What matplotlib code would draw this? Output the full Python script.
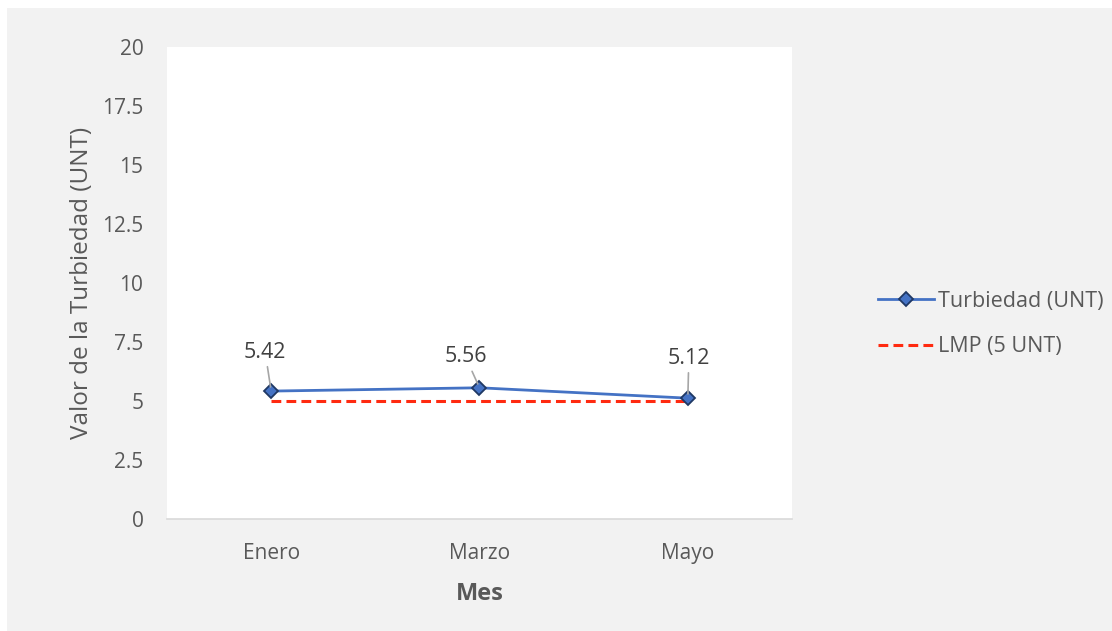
import matplotlib
matplotlib.use("Agg")
import matplotlib.pyplot as plt
from matplotlib.patches import Rectangle

meses = ["Enero", "Marzo", "Mayo"]
turbiedad = [5.42, 5.56, 5.12]
lmp = [5, 5, 5]
yticks = [0, 2.5, 5, 7.5, 10, 12.5, 15, 17.5, 20]
ytick_labels = ["0", "2.5", "5", "7.5", "10", "12.5", "15", "17.5", "20"]

W, H = 1112, 631
fig = plt.figure(figsize=(W / 100, H / 100), dpi=100)
fig.patch.set_facecolor("white")
bg = Rectangle((7 / W, 0), 1 - 7 / W, 1 - 8 / H, transform=fig.transFigure,
               facecolor="#f2f2f2", edgecolor="none", zorder=-10)
fig.patches.append(bg)

font = "Open Sans"
tc = "#595959"

ax = fig.add_axes([167 / W, (H - 519) / H, 625 / W, 472 / H])
ax.set_zorder(1)
ax.set_facecolor("white")
x = list(range(len(meses)))

ax.plot(x, lmp, linestyle=(0, (3.2, 1.7)), color="#ff2a10", lw=2.2, zorder=2,
        label="LMP (5 UNT)")
ax.plot(x, turbiedad, color="#4472c4", lw=2, marker="D", markersize=7.5,
        markerfacecolor="#4472c4", markeredgecolor="#1f3864", markeredgewidth=1.3,
        zorder=3, label="Turbiedad (UNT)")

offsets = [(-6, 39), (-14, 31), (1, 40)]
for xi, v, (dx, dy) in zip(x, turbiedad, offsets):
    ax.annotate(f"{v:.2f}", xy=(xi, v), xytext=(dx, dy), textcoords="offset pixels",
                ha="center", va="center", fontsize=15.5, color="#404040", family=font,
                arrowprops=dict(arrowstyle="-", color="#a6a6a6", lw=1.2,
                                shrinkA=1, shrinkB=3), zorder=4)

ax.set_xlim(-0.5, 2.5)
ax.set_ylim(0, 20)
ax.set_yticks(yticks)
ax.set_yticklabels(ytick_labels)
ax.set_xticks(x)
ax.set_xticklabels(meses)
ax.tick_params(axis="both", length=0, labelsize=15, labelcolor=tc)
ax.tick_params(axis="y", pad=17)
ax.tick_params(axis="x", pad=17)
for lab in ax.get_xticklabels() + ax.get_yticklabels():
    lab.set_family(font)
for s in ["top", "right", "left"]:
    ax.spines[s].set_visible(False)
ax.spines["bottom"].set_color("#d9d9d9")
ax.spines["bottom"].set_linewidth(1.2)

ax.set_ylabel("Valor de la Turbiedad (UNT)", fontsize=17.5, color=tc, family=font, labelpad=6)
ax.set_xlabel("Mes", fontsize=17, color=tc, family=font, fontweight="bold", labelpad=13)

handles, labels = ax.get_legend_handles_labels()
leg = fig.legend(handles[::-1], labels[::-1], loc="center left",
                 bbox_to_anchor=(859 / W, 1 - 324 / H), frameon=False,
                 prop={"family": font, "size": 15.5}, labelcolor=tc,
                 handlelength=2.6, handletextpad=0.15, labelspacing=1.15)

fig.savefig("out.png", dpi=100, facecolor=fig.get_facecolor())
